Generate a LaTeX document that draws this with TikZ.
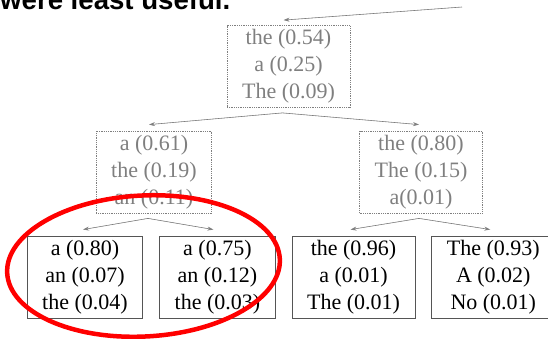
\documentclass[tikz,border=0pt]{standalone}
\usepackage{fontspec}
\setmainfont{Liberation Serif}
\setsansfont{Liberation Sans}
\usepackage{tikz}
\usetikzlibrary{positioning, arrows.meta}

\definecolor{beamgray}{HTML}{7F7F7F}
\definecolor{leafgray}{HTML}{555555}

\begin{document}
\begin{tikzpicture}[
    x=1pt, y=-1pt,
    % Styles for the beam boxes and the arrows
    node distance=16pt,
    probbox/.style={draw=beamgray, densely dotted, line width=0.8pt, text=beamgray, align=center,
      font=\fontsize{22}{27}\selectfont, inner xsep=15pt, minimum height=82pt},
    leafbox/.style={draw=leafgray, line width=0.9pt, align=center,
      font=\fontsize{22}{27}\selectfont, inner xsep=15pt, minimum height=82pt},
    arrow/.style={-{Stealth[length=6pt, width=4pt]}, draw=beamgray, fill=beamgray, line width=0.6pt},
    highlight/.style={draw=red, line width=4.5pt}
]
    \useasboundingbox (0,0) rectangle (548,338);
    \clip (0,0) rectangle (548,338);

    % Slide title, cut off at the top
    \node[anchor=base west, inner sep=0pt, font=\sffamily\bfseries\fontsize{27.6}{33}\selectfont] (title) at (0,9) {were least useful.};

    % Define the nodes
    \node[probbox] (root) at (288.5,66.5) {the (0.54)\\ a (0.25)\\ The (0.09)};

    \node[probbox] (left) at (154,172) {a (0.61)\\ the (0.19)\\ an (0.11)};
    \node[probbox] (right) at (421,172) {the (0.80)\\ The (0.15)\\ a(0.01)};

    \node[leafbox] (leafA) at (85,277) {a (0.80)\\ an (0.07)\\ the (0.04)};
    \node[leafbox, right=of leafA] (leafB) {a (0.75)\\ an (0.12)\\ the (0.03)};
    \node[leafbox, right=of leafB] (leafC) {the (0.96)\\ a (0.01)\\ The (0.01)};
    \node[leafbox, right=of leafC] (leafD) {The (0.93)\\ A (0.02)\\ No (0.01)};

    % Draw the arrows
    \coordinate (feed) at (462,7);
    \draw[arrow] (feed) -- ([xshift=-5pt, yshift=5pt]root.north);

    \coordinate (rootout) at ([xshift=-6pt, yshift=-5pt]root.south);
    \draw[arrow] (rootout) -- ([xshift=-5pt, yshift=6pt]left.north);
    \draw[arrow] (rootout) -- ([xshift=-2pt, yshift=6pt]right.north);

    \coordinate (leftout) at ([xshift=-6pt, yshift=-5pt]left.south);
    \draw[arrow] (leftout) -- ([xshift=-2pt, yshift=6pt]leafA.north);
    \draw[arrow] (leftout) -- ([xshift=-4pt, yshift=6pt]leafB.north);

    \coordinate (rightout) at ([xshift=-2pt, yshift=-5pt]right.south);
    \draw[arrow] (rightout) -- ([xshift=-3pt, yshift=6pt]leafC.north);
    \draw[arrow] (rightout) -- ([xshift=-3pt, yshift=6pt]leafD.north);

    % Red ring round the first two leaves
    \draw[highlight] (143.5,266) ellipse [x radius=136.5pt, y radius=70.5pt, rotate=3];
\end{tikzpicture}
\end{document}
